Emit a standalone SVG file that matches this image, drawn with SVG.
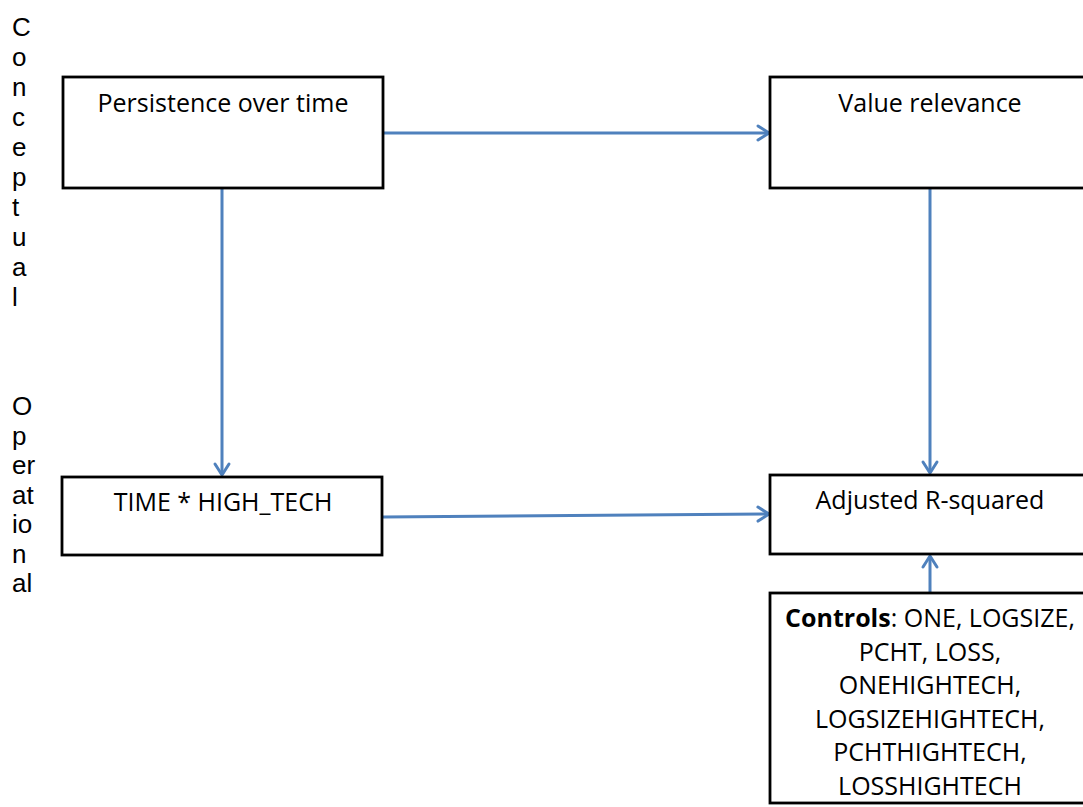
<svg xmlns="http://www.w3.org/2000/svg" width="1083" height="807" viewBox="0 0 1083 807">
<style>
.box{fill:#fff;stroke:#000;stroke-width:2.8}
.t{font-family:"Open Sans","Liberation Sans",sans-serif;font-size:25px;fill:#000;text-anchor:middle}
.side{font-family:"Liberation Sans",Arial,sans-serif;font-size:26px;fill:#000}
.conn{fill:none;stroke:#4F81BD;stroke-width:3;marker-end:url(#ah)}
</style>
<defs>
<marker id="ah" markerUnits="userSpaceOnUse" markerWidth="20" markerHeight="20" viewBox="-14 -10 16 20" refX="0" refY="0" orient="auto">
<path d="M-11,-7 L0,0 L-11,7" fill="none" stroke="#4F81BD" stroke-width="3" stroke-linecap="round" stroke-linejoin="round"/>
</marker>
</defs>
<rect width="1083" height="807" fill="#fff"/>
<g id="side-labels" class="side">
<text x="12" y="36">C</text>
<text x="12" y="66">o</text>
<text x="12" y="96">n</text>
<text x="12" y="126">c</text>
<text x="12" y="156">e</text>
<text x="12" y="186">p</text>
<text x="12" y="216">t</text>
<text x="12" y="246">u</text>
<text x="12" y="276">a</text>
<text x="12" y="306">l</text>
<text x="12" y="415">O</text>
<text x="12" y="444.5">p</text>
<text x="12" y="474">er</text>
<text x="12" y="503.5">at</text>
<text x="12" y="533">io</text>
<text x="12" y="562.5">n</text>
<text x="12" y="592">al</text>
</g>
<g id="connectors">
<line class="conn" x1="383" y1="133" x2="769" y2="133"/>
<line class="conn" x1="222" y1="188" x2="222" y2="475"/>
<line class="conn" x1="930" y1="188" x2="930" y2="473"/>
<line class="conn" x1="383" y1="517" x2="769" y2="514"/>
<line class="conn" x1="930" y1="593" x2="930" y2="556"/>
</g>
<g id="persistence">
<rect class="box" x="63" y="77" width="320" height="111"/>
<text class="t" x="223" y="112">Persistence over time</text>
</g>
<g id="value-relevance">
<rect class="box" x="770" y="77" width="320" height="111"/>
<text class="t" x="930" y="112">Value relevance</text>
</g>
<g id="time-hightech">
<rect class="box" x="62" y="477" width="320" height="78"/>
<text class="t" x="223" y="511">TIME * HIGH_TECH</text>
</g>
<g id="adjusted-r2">
<rect class="box" x="770" y="475" width="320" height="79"/>
<text class="t" x="930" y="509">Adjusted R-squared</text>
</g>
<g id="controls">
<rect class="box" x="770" y="593" width="320" height="210"/>
<text class="t" x="930" y="627"><tspan font-weight="bold">Controls</tspan>: ONE, LOGSIZE,</text>
<text class="t" x="930" y="660.6">PCHT, LOSS,</text>
<text class="t" x="930" y="694.2">ONEHIGHTECH,</text>
<text class="t" x="930" y="727.8">LOGSIZEHIGHTECH,</text>
<text class="t" x="930" y="761.4">PCHTHIGHTECH,</text>
<text class="t" x="930" y="795">LOSSHIGHTECH</text>
</g>
</svg>
